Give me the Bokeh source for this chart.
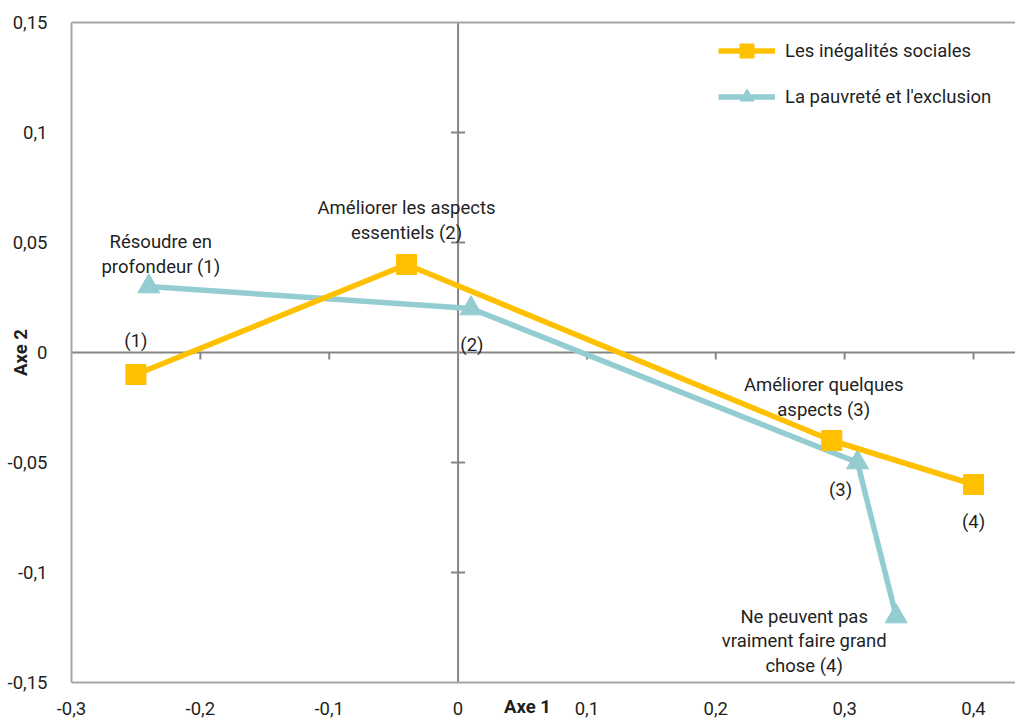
import math
from bokeh.plotting import figure
from bokeh.models import (Range1d, FixedTicker, LinearAxis, Span,
                          Legend, LegendItem, ColumnDataSource)
from bokeh.core.properties import value
from bokeh.embed import file_html
from bokeh.resources import INLINE

# ---------------- data ----------------
x_ticks = [-0.3, -0.2, -0.1, 0, 0.1, 0.2, 0.3, 0.4]
x_tick_labels = ["-0,3", "-0,2", "-0,1", "0", "0,1", "0,2", "0,3", "0,4"]
y_ticks = [-0.15, -0.1, -0.05, 0, 0.05, 0.1, 0.15]
y_tick_labels = ["-0,15", "-0,1", "-0,05", "0", "0,05", "0,1", "0,15"]

series_names = ["Les inégalités sociales", "La pauvreté et l'exclusion"]

ineg_x = [-0.25, -0.04, 0.29, 0.40]
ineg_y = [-0.01, 0.04, -0.04, -0.06]
ineg_labels = ["(1)", "Améliorer les aspects\nessentiels (2)",
               "Améliorer quelques\naspects (3)", "(4)"]

pauv_x = [-0.24, 0.01, 0.31, 0.34]
pauv_y = [0.03, 0.02, -0.05, -0.12]
pauv_labels = ["Résoudre en\nprofondeur (1)", "(2)", "(3)",
               "Ne peuvent pas\nvraiment faire grand\nchose (4)"]

axis_titles = ["Axe 1", "Axe 2"]

# ---------------- style ----------------
FONT = "Roboto"
FS = "18.5px"
TXT = "#1F1F1F"
YEL = "#FFC000"
TEAL = "#93CDD1"
FRAME = "#A6A6A6"
CENTER = "#868686"
LW = 5.5

# label pixel offsets (style)
ineg_dx = [0, 0, -8, 0]
ineg_dy = [-34, -44, -43, 37]
pauv_dx = [12, 1, -17, -92]
pauv_dy = [-32, 36, 27, 25]

p = figure(frame_width=944, frame_height=660, output_backend="svg",
           toolbar_location=None,
           x_range=Range1d(-0.3, 0.4326), y_range=Range1d(-0.15, 0.15),
           min_border_left=71, min_border_right=0, min_border_top=22,
           min_border_bottom=30)
p.xgrid.visible = False
p.ygrid.visible = False
p.outline_line_color = None
p.background_fill_color = "white"
p.border_fill_color = "white"

for ax, ticks, labs in ((p.xaxis[0], x_ticks, x_tick_labels),
                        (p.yaxis[0], y_ticks, y_tick_labels)):
    ax.ticker = FixedTicker(ticks=ticks)
    ax.major_label_overrides = {t: l for t, l in zip(ticks, labs)}
    ax.axis_line_color = FRAME
    ax.axis_line_width = 2
    ax.major_tick_line_color = None
    ax.minor_tick_line_color = None
    ax.major_label_text_font = FONT
    ax.major_label_text_font_size = FS
    ax.major_label_text_color = TXT
    ax.axis_label_text_font = FONT
    ax.axis_label_text_font_size = FS
    ax.axis_label_text_font_style = "bold"
    ax.axis_label_text_color = TXT

p.xaxis[0].major_label_standoff = 13
# trailing no-break spaces shift the centred title a little to the left
p.xaxis[0].axis_label = axis_titles[0] + "\u00a0" * 7
p.xaxis[0].axis_label_standoff = -22
p.yaxis[0].major_label_standoff = 18
p.yaxis[0].axis_label = axis_titles[1]
p.yaxis[0].axis_label_standoff = -27

top_axis = LinearAxis(ticker=FixedTicker(ticks=[]), axis_line_color=FRAME,
                      axis_line_width=2, major_tick_line_color=None,
                      minor_tick_line_color=None,
                      major_label_text_font_size="0px")
p.add_layout(top_axis, "above")

# centre axes
p.add_layout(Span(location=0, dimension="height", line_color=CENTER,
                  line_width=2, level="underlay"))
p.add_layout(Span(location=0, dimension="width", line_color=CENTER,
                  line_width=2, level="underlay"))
hx = [t for t in x_ticks if t not in (0, -0.3)]
p.ray(x=hx, y=[0] * len(hx), length=7, length_units="screen",
      angle=-math.pi / 2, line_color=CENTER, line_width=2, level="underlay")
vy = [t for t in y_ticks if t not in (0, -0.15, 0.15)]
p.scatter(x=[0] * len(vy), y=vy, marker="dash", size=14, line_color=CENTER,
          line_width=2, level="underlay")

# series
l2 = p.line(pauv_x, pauv_y, line_color=TEAL, line_width=LW)
s2 = p.scatter(pauv_x, pauv_y, marker="triangle", size=22, fill_color=TEAL,
               line_color=TEAL)
l1 = p.line(ineg_x, ineg_y, line_color=YEL, line_width=LW)
s1 = p.scatter(ineg_x, ineg_y, marker="square", size=20, fill_color=YEL,
               line_color=YEL)

# point labels
src1 = ColumnDataSource(dict(x=ineg_x, y=ineg_y, t=ineg_labels,
                             dx=ineg_dx, dy=ineg_dy))
src2 = ColumnDataSource(dict(x=pauv_x, y=pauv_y, t=pauv_labels,
                             dx=pauv_dx, dy=pauv_dy))
for src in (src1, src2):
    p.text(x="x", y="y", text="t", x_offset="dx", y_offset="dy", source=src,
           text_font=value(FONT), text_font_size=FS, text_color=TXT,
           text_align="center", text_baseline="middle", text_line_height=1.1)

legend = Legend(items=[LegendItem(label=series_names[0], renderers=[l1, s1]),
                       LegendItem(label=series_names[1], renderers=[l2, s2])],
                location=(647, 568), orientation="vertical",
                glyph_width=57, glyph_height=35, label_standoff=10,
                spacing=11, padding=0, margin=0, border_line_color=None,
                background_fill_alpha=0, label_text_font=FONT,
                label_text_font_size=FS, label_text_color=TXT)
p.add_layout(legend)

open("out.html", "w").write(file_html(p, INLINE))
